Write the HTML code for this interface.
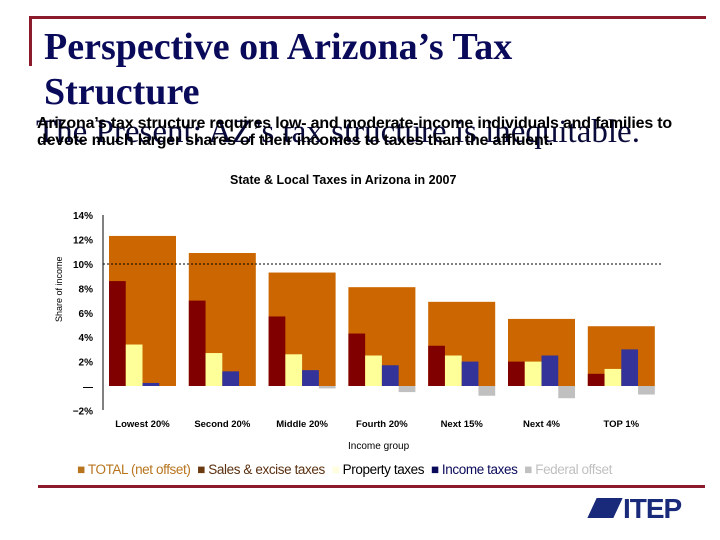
<!DOCTYPE html>
<html><head><meta charset="utf-8"><style>
body{margin:0;width:720px;height:540px;background:#fff;position:relative;overflow:hidden;font-family:"Liberation Sans",sans-serif}
.a{position:absolute;white-space:nowrap}
</style></head><body>
<div class="a" style="left:30px;top:16px;width:676px;height:3px;background:#8b1a2b"></div>
<div class="a" style="left:29px;top:16px;width:3px;height:50px;background:#8b1a2b"></div>
<div class="a" style="left:44px;top:25px;font:bold 38px/45px 'Liberation Serif',serif;color:#0a0a5a">Perspective on Arizona’s Tax<br>Structure</div>
<div class="a" style="left:36px;top:114px;font:33px 'Liberation Serif',serif;color:#0a0a3a">The Present: AZ’s tax structure is inequitable.</div>
<div class="a" style="left:37px;top:115px;font:bold 16px/17px 'Liberation Sans',sans-serif;color:#000;letter-spacing:-0.2px">Arizona’s tax structure requires low- and moderate-income individuals and families to<br>devote much larger shares of their incomes to taxes than the affluent.</div>
<div class="a" style="left:230px;top:173px;font:bold 12.5px 'Liberation Sans',sans-serif">State &amp; Local Taxes in Arizona in 2007</div>
<svg class="a" style="left:0;top:0" width="720" height="540" id="chart"></svg>
<div class="a" style="left:348px;top:441px;font:10px 'Liberation Sans',sans-serif">Income group</div>
<div class="a" style="left:77px;top:462px;font:13.5px 'Liberation Sans',sans-serif;letter-spacing:-0.4px">
<span style="color:#b8751e">■ TOTAL (net offset)</span>&nbsp;
<span style="color:#5a3010"><span style="color:#6b3a10">■</span> Sales &amp; excise taxes</span>&nbsp;
<span style="color:#000"><span style="color:#ffffe0">■</span> Property taxes</span>&nbsp;
<span style="color:#0a0a5a">■ Income taxes</span>&nbsp;
<span style="color:#c0c0c0">■ Federal offset</span></div>
<div class="a" style="left:38px;top:485px;width:667px;height:3px;background:#8b1a2b"></div>
<div class="a" style="left:592px;top:496px;font:bold 28px/26px 'Liberation Sans',sans-serif;color:#1a2a7a;letter-spacing:-1px"><span style="display:inline-block;width:26px;height:20px;background:#1a2a7a;transform:skewX(-25deg);margin-right:5px"></span>ITEP</div>
<script>
const categories=["Lowest 20%","Second 20%","Middle 20%","Fourth 20%","Next 15%","Next 4%","TOP 1%"];
const total=[12.3,10.9,9.3,8.1,6.9,5.5,4.9];
const sales=[8.6,7.0,5.7,4.3,3.3,2.0,1.0];
const property=[3.4,2.7,2.6,2.5,2.5,2.0,1.4];
const income=[0.25,1.2,1.3,1.7,2.0,2.5,3.0];
const federal=[0,0,-0.2,-0.5,-0.8,-1.0,-0.7];
const ticks=[14,12,10,8,6,4,2,0,-2];
const tickLabels=["14%","12%","10%","8%","6%","4%","2%","—","−2%"];
const svg=document.getElementById('chart');const NS='http://www.w3.org/2000/svg';
const y=v=>386-v*12.2;const x0=i=>109+i*79.8;
function mk(t,a){const e=document.createElementNS(NS,t);for(const k in a)e.setAttribute(k,a[k]);svg.appendChild(e);return e;}
let e=mk('line',{x1:103,y1:215,x2:103,y2:410,stroke:'#000'});

ticks.forEach((t,i)=>{const tx=mk('text',{x:93,y:y(t)+4,'text-anchor':'end','font-size':10,'font-weight':'bold','font-family':'Liberation Sans,sans-serif'});tx.textContent=tickLabels[i];
});
const yt=mk('text',{x:0,y:0,transform:'translate(62,322) rotate(-90)','font-size':9,'font-family':'Liberation Sans,sans-serif'});yt.textContent='Share of income';

categories.forEach((c,i)=>{const x=x0(i);
 let r=mk('rect',{x:x,y:y(total[i]),width:67,height:y(0)-y(total[i]),fill:'#cc6600'});
 
 [[sales,'#800000','bar-sales'],[property,'#ffff99','bar-property'],[income,'#333399','bar-income'],[federal,'#c0c0c0','bar-federal']].forEach((s,j)=>{const v=s[0][i];
  const b=mk('rect',{x:x+j*16.75,y:Math.min(y(v),y(0)),width:16.75,height:Math.abs(y(0)-y(v)),fill:s[1]});
  });
 const t=mk('text',{x:x+33.5,y:427,'text-anchor':'middle','font-size':9.5,'font-weight':'bold','font-family':'Liberation Sans,sans-serif'});t.textContent=c;
 });
e=mk('line',{x1:103,y1:y(10),x2:661,y2:y(10),stroke:'#000','stroke-dasharray':'2,2'});

</script>
</body></html>
